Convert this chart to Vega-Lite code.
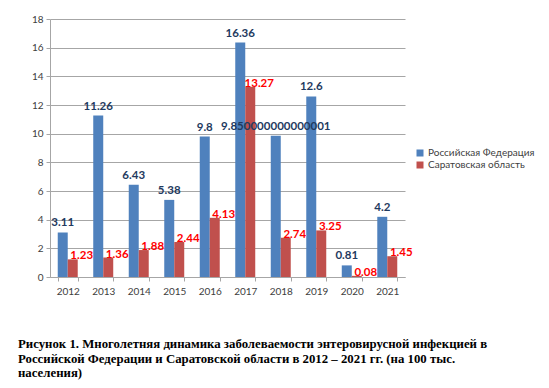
{
  "$schema": "https://vega.github.io/schema/vega-lite/v6.json",
  "width": 355,
  "height": 258,
  "autosize": {"type": "none"},
  "padding": {"left": 50, "top": 19, "right": 144, "bottom": 111},
  "background": "white",
  "title": {
    "text": [
      "Рисунок 1. Многолетняя динамика заболеваемости энтеровирусной инфекцией в",
      "Российской Федерации и Саратовской области в 2012 – 2021 гг. (на 100 тыс.",
      "населения)"
    ],
    "orient": "bottom",
    "anchor": "start",
    "frame": "group",
    "dx": -32,
    "offset": 42,
    "font": "Liberation Serif",
    "fontSize": 12.8,
    "fontWeight": "bold",
    "color": "#000000",
    "lineHeight": 14.5
  },
  "data": {
    "values": [
      {"year": "2012", "series": "Российская Федерация", "value": 3.11},
      {"year": "2013", "series": "Российская Федерация", "value": 11.26},
      {"year": "2014", "series": "Российская Федерация", "value": 6.43},
      {"year": "2015", "series": "Российская Федерация", "value": 5.38},
      {"year": "2016", "series": "Российская Федерация", "value": 9.8},
      {"year": "2017", "series": "Российская Федерация", "value": 16.36},
      {"year": "2018", "series": "Российская Федерация", "value": 9.850000000000001},
      {"year": "2019", "series": "Российская Федерация", "value": 12.6},
      {"year": "2020", "series": "Российская Федерация", "value": 0.81},
      {"year": "2021", "series": "Российская Федерация", "value": 4.2},
      {"year": "2012", "series": "Саратовская область", "value": 1.23},
      {"year": "2013", "series": "Саратовская область", "value": 1.36},
      {"year": "2014", "series": "Саратовская область", "value": 1.88},
      {"year": "2015", "series": "Саратовская область", "value": 2.44},
      {"year": "2016", "series": "Саратовская область", "value": 4.13},
      {"year": "2017", "series": "Саратовская область", "value": 13.27},
      {"year": "2018", "series": "Саратовская область", "value": 2.74},
      {"year": "2019", "series": "Саратовская область", "value": 3.25},
      {"year": "2020", "series": "Саратовская область", "value": 0.08},
      {"year": "2021", "series": "Саратовская область", "value": 1.45}
    ]
  },
  "encoding": {
    "x": {
      "field": "year",
      "type": "nominal",
      "sort": null,
      "scale": {"paddingInner": 0.437, "paddingOuter": 0.218},
      "axis": {
        "title": null,
        "labelAngle": 0,
        "tickBand": "extent",
        "tickSize": 4,
        "tickColor": "#A6A6A6",
        "domainColor": "#A6A6A6",
        "labelPadding": 5,
        "labelFont": "Lato",
        "labelFontSize": 10,
        "labelColor": "#404040"
      }
    },
    "xOffset": {
      "field": "series",
      "type": "nominal",
      "sort": ["Российская Федерация", "Саратовская область"],
      "scale": {"paddingInner": 0, "paddingOuter": 0}
    },
    "y": {
      "field": "value",
      "type": "quantitative",
      "scale": {"domain": [0, 18], "nice": false},
      "axis": {
        "title": null,
        "values": [0, 2, 4, 6, 8, 10, 12, 14, 16, 18],
        "tickSize": 4,
        "tickColor": "#A6A6A6",
        "domainColor": "#A6A6A6",
        "gridColor": "#A6A6A6",
        "gridWidth": 1,
        "labelPadding": 3,
        "labelFont": "Lato",
        "labelFontSize": 10,
        "labelColor": "#404040"
      }
    }
  },
  "layer": [
    {
      "mark": {"type": "bar"},
      "encoding": {
        "color": {
          "field": "series",
          "type": "nominal",
          "sort": ["Российская Федерация", "Саратовская область"],
          "scale": {"range": ["#4F81BD", "#C0504D"]},
          "legend": {
            "title": null,
            "orient": "none",
            "legendX": 365,
            "legendY": 129,
            "symbolType": "square",
            "symbolSize": 49,
            "symbolStrokeWidth": 0,
            "labelFont": "Lato",
            "labelFontSize": 10,
            "labelColor": "#404040",
            "rowPadding": 2,
            "labelOffset": 3
          }
        }
      }
    },
    {
      "transform": [{"filter": "datum.series === 'Российская Федерация'"}],
      "mark": {
        "type": "text",
        "dy": -6,
        "baseline": "alphabetic",
        "font": "Lato",
        "fontSize": 11.5,
        "fontWeight": "bold",
        "color": "#1F3A60"
      },
      "encoding": {"text": {"field": "value", "type": "nominal"}}
    },
    {
      "transform": [{"filter": "datum.series === 'Саратовская область'"}],
      "mark": {
        "type": "text",
        "dx": 9,
        "dy": 0,
        "baseline": "alphabetic",
        "font": "Lato",
        "fontSize": 11.5,
        "fontWeight": "bold",
        "color": "#FF0000"
      },
      "encoding": {"text": {"field": "value", "type": "nominal"}}
    }
  ],
  "config": {"view": {"stroke": null}}
}
